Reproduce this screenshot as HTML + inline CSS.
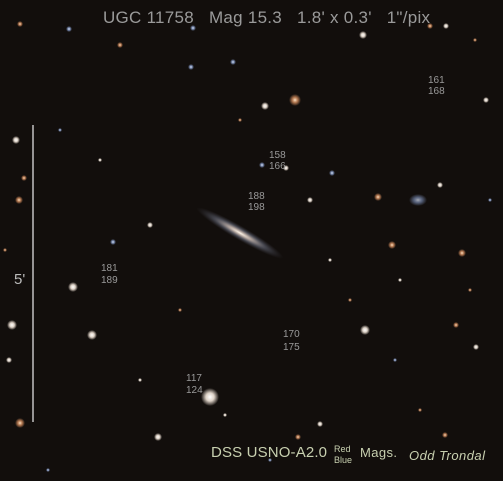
<!DOCTYPE html>
<html><head><meta charset="utf-8"><style>
html,body{margin:0;padding:0;background:#120e0c;}
svg{display:block}
text{font-family:"Liberation Sans",sans-serif}
</style></head><body>
<svg width="503" height="481" viewBox="0 0 503 481">
<defs>
<radialGradient id="st"><stop offset="0" stop-color="#fff"/><stop offset="0.45" stop-color="#f4e8dc" stop-opacity="0.9"/><stop offset="1" stop-color="#f4e8dc" stop-opacity="0"/></radialGradient>
<radialGradient id="so"><stop offset="0" stop-color="#ffe6c8"/><stop offset="0.45" stop-color="#d89060" stop-opacity="0.8"/><stop offset="1" stop-color="#d89060" stop-opacity="0"/></radialGradient>
<radialGradient id="sb"><stop offset="0" stop-color="#e8f0ff"/><stop offset="0.45" stop-color="#8aa0d0" stop-opacity="0.8"/><stop offset="1" stop-color="#8aa0d0" stop-opacity="0"/></radialGradient>
<radialGradient id="gal"><stop offset="0" stop-color="#fff6ea"/><stop offset="0.25" stop-color="#d8c8c0" stop-opacity="0.8"/><stop offset="0.6" stop-color="#8890a8" stop-opacity="0.4"/><stop offset="1" stop-color="#556" stop-opacity="0"/></radialGradient>
</defs>
<rect width="503" height="481" fill="#120e0c"/>
<g id="stars"></g>
<ellipse cx="240" cy="233" rx="50" ry="7" fill="url(#gal)" transform="rotate(30 240 233)"/>
<ellipse cx="418" cy="200" rx="9" ry="6" fill="url(#sb)" opacity="0.7"/>
<line x1="33" y1="125" x2="33" y2="422" stroke="#ddd" stroke-width="1.3"/>
<text x="14" y="284" fill="#bbb" font-size="15">5'</text>
<text x="103" y="23" fill="#9a9a9a" font-size="17" textLength="327" xml:space="preserve">UGC 11758   Mag 15.3   1.8' x 0.3'   1"/pix</text>
<g fill="#9a9a9a" font-size="10">
<text x="428" y="83">161</text><text x="428" y="94">168</text>
<text x="269" y="158">158</text><text x="269" y="169">166</text>
<text x="248" y="199">188</text><text x="248" y="210">198</text>
<text x="101" y="271">181</text><text x="101" y="283">189</text>
<text x="283" y="337">170</text><text x="283" y="350">175</text>
<text x="186" y="381">117</text><text x="186" y="393">124</text>
</g>
<text x="211" y="457" fill="#c8d0b0" font-size="15" textLength="116">DSS USNO-A2.0</text>
<text x="334" y="452" fill="#c8d0b0" font-size="9">Red</text>
<text x="334" y="463" fill="#c8d0b0" font-size="9">Blue</text>
<text x="360" y="457" fill="#c8d0b0" font-size="13" textLength="37">Mags.</text>
<text x="409" y="460" fill="#c8d0b0" font-size="13" font-style="italic" font-family="Liberation Serif,serif" textLength="76">Odd Trondal</text>
</svg>
<script>
const starX=[295,265,210,365,73,92,12,20,19,378,392,462,440,113,158,298,320,363,193,69,20,430,446,233,191,120,150,310,486,16,24,9,456,445,476,332,286,262,350,475,60,140,240,400,490,5,48,180,330,270,420,100,225,470,395];
const starY=[100,106,397,330,287,335,325,423,200,197,245,253,185,242,437,437,424,35,28,29,24,26,26,62,67,45,225,200,100,140,178,360,325,435,347,173,168,165,300,40,130,380,120,280,200,250,470,310,260,460,410,160,415,290,360];
const starR=[6,4,9,5,5,5,5,5,4,4,4,4,3,3,4,3,3,4,3,3,3,3,3,3,3,3,3,3,3,4,3,3,3,3,3,3,3,3,2,2,2,2,2,2,2,2,2,2,2,2,2,2,2,2,2];
const starC=["so","st","st","st","st","st","st","so","so","so","so","so","st","sb","st","so","st","st","sb","sb","so","so","st","sb","sb","so","st","st","st","st","so","st","so","so","st","sb","st","sb","so","so","sb","st","so","st","sb","so","sb","so","st","sb","so","st","st","so","sb"];
const g=document.getElementById('stars');
for(let i=0;i<starX.length;i++){
 const c=document.createElementNS('http://www.w3.org/2000/svg','circle');
 c.setAttribute('cx',starX[i]);c.setAttribute('cy',starY[i]);c.setAttribute('r',starR[i]);
 c.setAttribute('fill','url(#'+starC[i]+')');
 
 
 g.appendChild(c);
}
</script>
</body></html>
